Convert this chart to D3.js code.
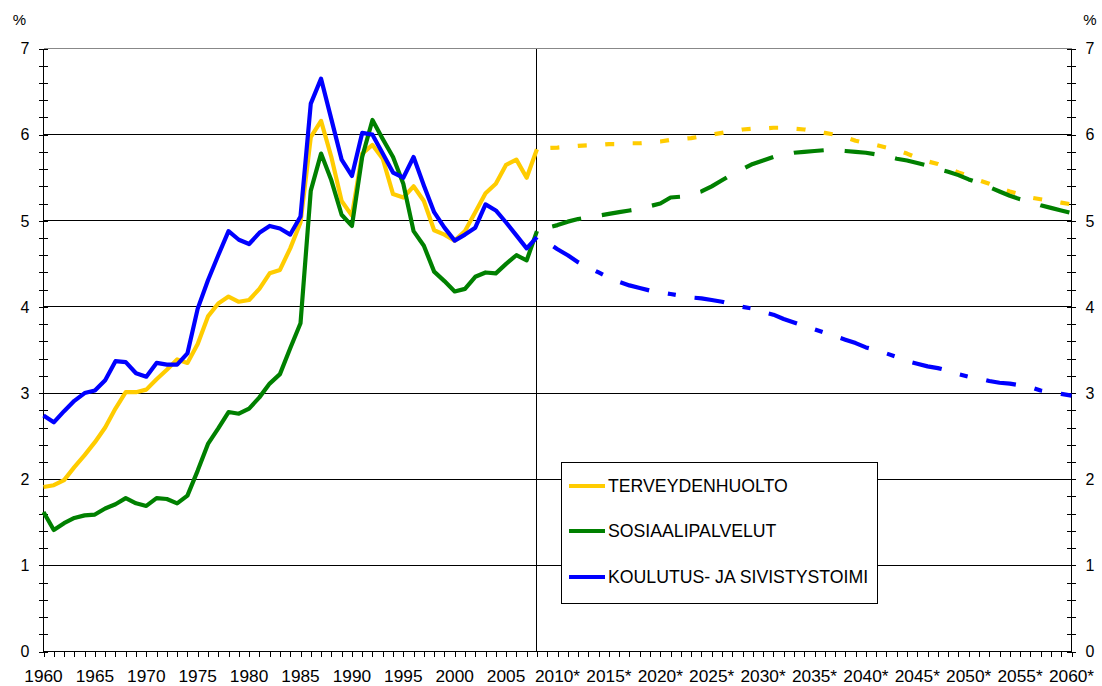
<!DOCTYPE html>
<html>
<head>
<meta charset="utf-8">
<script src="https://cdn.jsdelivr.net/npm/d3@7"></script>
<style>
  html, body { margin: 0; padding: 0; background: #fff; }
  svg { display: block; }
  text { font-family: "Liberation Sans", Arial, sans-serif; fill: #000; }
</style>
</head>
<body>
<svg id="chart" width="1102" height="686"></svg>
<script>
// ---------- DATA ----------
const seriesNames = ["TERVEYDENHUOLTO", "SOSIAALIPALVELUT", "KOULUTUS- JA SIVISTYSTOIMI"];
const seriesColors = ["#FFCC00", "#008000", "#0000FF"];

const histStart = 1960; // 1960..2008
const terveysHist = [1.91,1.93,1.99,2.14,2.28,2.43,2.60,2.82,3.01,3.01,
  3.04,3.16,3.27,3.39,3.35,3.57,3.89,4.04,4.12,4.06,
  4.08,4.21,4.39,4.43,4.68,4.98,5.97,6.16,5.74,5.23,
  5.06,5.78,5.88,5.72,5.31,5.27,5.40,5.23,4.89,4.84,
  4.77,4.88,5.10,5.32,5.43,5.65,5.71,5.50,5.83];
const sosiaaliHist = [1.62,1.41,1.49,1.55,1.58,1.59,1.66,1.71,1.78,1.72,
  1.69,1.78,1.77,1.72,1.81,2.10,2.41,2.59,2.78,2.76,
  2.82,2.95,3.11,3.22,3.52,3.81,5.35,5.78,5.47,5.07,
  4.94,5.74,6.17,5.95,5.74,5.43,4.88,4.71,4.41,4.30,
  4.18,4.21,4.35,4.40,4.39,4.50,4.60,4.54,4.88];
const koulutusHist = [2.74,2.66,2.79,2.91,3.00,3.03,3.15,3.37,3.36,3.23,
  3.19,3.35,3.33,3.33,3.46,3.98,4.31,4.60,4.88,4.78,
  4.73,4.86,4.94,4.91,4.84,5.05,6.36,6.65,6.18,5.71,
  5.52,6.02,6.00,5.78,5.56,5.50,5.74,5.41,5.10,4.92,
  4.77,4.84,4.92,5.19,5.12,4.98,4.83,4.68,4.81];

const projStart = 2008; // 2008..2060
const terveysProj = [5.83,5.845,5.85,5.86,5.87,5.876,5.88,5.89,5.89,5.90,
  5.90,5.91,5.92,5.94,5.95,5.96,5.98,6.00,6.02,6.04,
  6.06,6.07,6.07,6.08,6.08,6.07,6.06,6.04,6.02,6.00,
  5.97,5.93,5.90,5.88,5.85,5.82,5.78,5.73,5.69,5.66,
  5.61,5.56,5.52,5.47,5.43,5.38,5.34,5.31,5.27,5.25,
  5.23,5.21,5.19];
const sosiaaliProj = [4.88,4.92,4.95,4.99,5.02,5.04,5.06,5.08,5.10,5.12,
  5.14,5.17,5.20,5.27,5.28,5.31,5.34,5.40,5.47,5.54,
  5.60,5.66,5.70,5.74,5.77,5.79,5.80,5.81,5.82,5.82,
  5.81,5.80,5.79,5.77,5.75,5.72,5.70,5.67,5.64,5.60,
  5.57,5.53,5.48,5.44,5.39,5.34,5.29,5.25,5.22,5.18,
  5.15,5.12,5.09];
const koulutusProj = [4.81,4.75,4.67,4.60,4.52,4.46,4.40,4.34,4.29,4.25,
  4.22,4.19,4.17,4.15,4.13,4.11,4.10,4.08,4.06,4.03,
  4.00,3.98,3.94,3.91,3.86,3.82,3.78,3.74,3.70,3.66,
  3.62,3.58,3.53,3.50,3.46,3.42,3.37,3.34,3.31,3.29,
  3.26,3.22,3.19,3.17,3.14,3.12,3.11,3.09,3.07,3.03,
  3.01,2.99,2.97];

const xTickYears = [1960,1965,1970,1975,1980,1985,1990,1995,2000,2005,2010,2015,2020,2025,2030,2035,2040,2045,2050,2055,2060];
const xTickLabels = ["1960","1965","1970","1975","1980","1985","1990","1995","2000","2005",
  "2010*","2015*","2020*","2025*","2030*","2035*","2040*","2045*","2050*","2055*","2060*"];
const yTicks = [0,1,2,3,4,5,6,7];
const yUnit = "%";
const splitYear = 2008;

// ---------- LAYOUT ----------
const svg = d3.select("#chart");
const x = d3.scaleLinear().domain([1960, 2060]).range([43.5, 1071.5]);
const y = d3.scaleLinear().domain([0, 7]).range([651.5, 48.5]);

// gridlines
svg.append("g").selectAll("line").data(yTicks.filter(d => d > 0)).join("line")
  .attr("x1", x(1960)).attr("x2", x(2060))
  .attr("y1", d => y(d)).attr("y2", d => y(d))
  .attr("stroke", d => d === 7 ? "#888" : "#000").attr("stroke-width", 1).attr("shape-rendering", "crispEdges");

// vertical split line
svg.append("line")
  .attr("x1", x(splitYear)).attr("x2", x(splitYear))
  .attr("y1", y(7)).attr("y2", y(0))
  .attr("stroke", "#000").attr("stroke-width", 1).attr("shape-rendering", "crispEdges");

// left axis
const minorTicks = d3.range(0, 7.001, 0.2);
const axL = svg.append("g").attr("transform", `translate(${x(1960)},0)`);
axL.append("line").attr("y1", y(0)).attr("y2", y(7)).attr("stroke", "#000").attr("shape-rendering", "crispEdges");
axL.selectAll("line.t").data(minorTicks).join("line").attr("class", "t")
  .attr("x1", -4.5).attr("x2", 4.5).attr("y1", d => Math.round(y(d)) + 0.5).attr("y2", d => Math.round(y(d)) + 0.5)
  .attr("stroke", "#000").attr("shape-rendering", "crispEdges");
axL.selectAll("text").data(yTicks).join("text")
  .attr("x", -14).attr("y", d => y(d)).attr("dy", "0.36em")
  .attr("text-anchor", "end").attr("font-size", 16).text(d => d);

// right axis
const axR = svg.append("g").attr("transform", `translate(${x(2060)},0)`);
axR.append("line").attr("y1", y(0)).attr("y2", y(7)).attr("stroke", "#000").attr("shape-rendering", "crispEdges");
axR.selectAll("line.t").data(minorTicks).join("line").attr("class", "t")
  .attr("x1", -4.5).attr("x2", 4.5).attr("y1", d => Math.round(y(d)) + 0.5).attr("y2", d => Math.round(y(d)) + 0.5)
  .attr("stroke", "#000").attr("shape-rendering", "crispEdges");
axR.selectAll("text").data(yTicks).join("text")
  .attr("x", 14).attr("y", d => y(d)).attr("dy", "0.36em")
  .attr("text-anchor", "start").attr("font-size", 16).text(d => d);

// units
svg.append("text").attr("x", 19.5).attr("y", 25).attr("text-anchor", "middle").attr("font-size", 15).text(yUnit);
svg.append("text").attr("x", 1090).attr("y", 25).attr("text-anchor", "middle").attr("font-size", 15).text(yUnit);

// bottom axis
const axB = svg.append("g").attr("transform", `translate(0,${y(0)})`);
axB.append("line").attr("x1", x(1960)).attr("x2", x(2060)).attr("stroke", "#000").attr("shape-rendering", "crispEdges");
axB.selectAll("line.t").data(d3.range(1960, 2061)).join("line").attr("class", "t")
  .attr("x1", d => Math.round(x(d)) + 0.5).attr("x2", d => Math.round(x(d)) + 0.5)
  .attr("y1", 0).attr("y2", 5).attr("stroke", "#000").attr("shape-rendering", "crispEdges");
axB.selectAll("text").data(xTickYears).join("text")
  .attr("x", d => x(d)).attr("y", 30.5)
  .attr("text-anchor", "middle").attr("font-size", 17.3)
  .text((d, i) => xTickLabels[i]);

// lines
const line = d3.line().x(d => x(d[0])).y(d => y(d[1]));
const hist = [terveysHist, sosiaaliHist, koulutusHist];
const proj = [terveysProj, sosiaaliProj, koulutusProj];
const dashes = ["9,18.5", "30,21", "30,19,8,19"];
const dashOffsets = [14, 35, 57];

proj.forEach((arr, i) => {
  svg.append("path")
    .datum(arr.map((v, k) => [projStart + k, v]))
    .attr("d", line).attr("fill", "none")
    .attr("stroke", seriesColors[i]).attr("stroke-width", 4.2)
    .attr("stroke-dasharray", dashes[i]).attr("stroke-dashoffset", dashOffsets[i])
    .attr("stroke-linejoin", "round");
});
hist.forEach((arr, i) => {
  svg.append("path")
    .datum(arr.map((v, k) => [histStart + k, v]))
    .attr("d", line).attr("fill", "none")
    .attr("stroke", seriesColors[i]).attr("stroke-width", 4.2)
    .attr("stroke-linejoin", "round");
});

// legend
const lg = svg.append("g");
lg.append("rect").attr("x", 561.5).attr("y", 462.5).attr("width", 316).attr("height", 141)
  .attr("fill", "#fff").attr("stroke", "#000").attr("stroke-width", 1);
const legendY = [486, 531, 577];
seriesNames.forEach((name, i) => {
  lg.append("line").attr("x1", 569).attr("x2", 605).attr("y1", legendY[i]).attr("y2", legendY[i])
    .attr("stroke", seriesColors[i]).attr("stroke-width", 4.2);
  lg.append("text").attr("x", 608).attr("y", legendY[i]).attr("dy", "0.36em")
    .attr("font-size", 17.7).text(name);
});
</script>
</body>
</html>
